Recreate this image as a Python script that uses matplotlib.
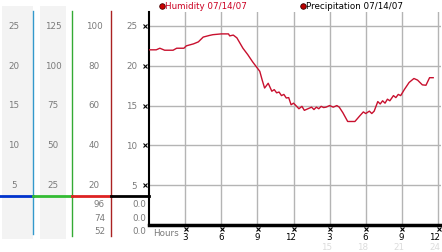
#!/usr/bin/env python3
"""Humidity / precipitation day chart, 07/14/07."""
import matplotlib
matplotlib.use('Agg')
import matplotlib.pyplot as plt
import matplotlib.transforms as mtransforms

# ---- data ----
hours = [0.0, 0.6, 0.9, 1.3, 2.0, 2.3, 2.9, 3.1, 3.7, 4.1, 4.5, 5.0, 5.3, 6.0,
         6.6, 6.7, 7.0, 7.3, 7.8, 8.2, 8.6, 8.9, 9.2, 9.4, 9.6, 9.9, 10.2,
         10.4, 10.6, 10.8, 11.0, 11.2, 11.4, 11.6, 11.8, 12.0, 12.2, 12.45,
         12.7, 12.9, 13.2, 13.5, 13.7, 13.9, 14.1, 14.3, 14.5, 14.7, 15.0,
         15.3, 15.6, 15.8, 16.1, 16.5, 17.1, 17.5, 17.8, 18.0, 18.3, 18.5,
         18.7, 19.0, 19.2, 19.4, 19.6, 19.8, 20.0, 20.3, 20.5, 20.7, 20.9,
         21.2, 21.6, 22.0, 22.3, 22.7, 23.0, 23.3, 23.6]
humidity = [22.0, 22.0, 22.2, 21.95, 21.95, 22.2, 22.2, 22.5, 22.75, 23.0,
            23.6, 23.8, 23.9, 24.0, 24.0, 23.75, 23.85, 23.5, 22.2, 21.4,
            20.5, 19.9, 19.3, 18.2, 17.2, 17.8, 16.8, 17.0, 16.6, 16.7, 16.25,
            16.4, 15.95, 16.0, 15.1, 15.3, 15.0, 14.6, 14.9, 14.4, 14.6, 14.8,
            14.5, 14.8, 14.6, 14.9, 14.75, 14.8, 15.0, 14.8, 15.0, 14.8, 14.1,
            13.0, 13.0, 13.7, 14.2, 14.0, 14.3, 14.0, 14.3, 15.5, 15.2, 15.6,
            15.3, 15.8, 15.6, 16.25, 16.0, 16.4, 16.25, 17.0, 17.9, 18.4,
            18.2, 17.6, 17.55, 18.5, 18.5]

y_ticks = [5, 10, 15, 20, 25]
x_ticks = [3, 6, 9, 12, 15, 18, 21, 24]
x_labels = ['3', '6', '9', '12', '3', '6', '9', '12']
x_labels_24 = ['15', '18', '21', '24']

# left scale columns (same rows as main y ticks)
col1_labels = ['5', '10', '15', '20', '25']
col2_labels = ['25', '50', '75', '100', '125']
col3_labels = ['20', '40', '60', '80', '100']
bottom_vals = ['96', '74', '52']
bottom_precip = ['0.0', '0.0', '0.0']

W, H = 442, 253
fig = plt.figure(figsize=(W / 100, H / 100), dpi=100)
fig.patch.set_facecolor('white')

GRAY_TXT = '#7a7a7a'
LINE_RED = '#c8102e'
FS = 6.3

# ---- decoration layer in pixel coordinates ----
deco = fig.add_axes([0, 0, 1, 1])
deco.set_xlim(0, W)
deco.set_ylim(H, 0)
deco.axis('off')

# ---- main plot ----
x0, x1, ytop, ybot = 149, 441, 13, 226
ax = fig.add_axes([x0 / W, 1 - ybot / H, (x1 - x0) / W, (ybot - ytop) / H])
ax.set_xlim(0, 24 * (x1 - x0) / (438 - x0))
ax.set_ylim(0, 25 + 14 / 8)
ax.set_facecolor('none')

for y in y_ticks:
    ax.axhline(y, color='#b4b4b4', lw=1, zorder=1)
for x in x_ticks:
    ax.axvline(x, color='#b4b4b4', lw=1, zorder=1)

ax.plot(hours, humidity, color=LINE_RED, lw=1, zorder=3)

for s in ['top', 'right']:
    ax.spines[s].set_visible(False)
ax.spines['left'].set_linewidth(1.5)
ax.spines['bottom'].set_linewidth(2.5)
ax.tick_params(length=0)
ax.set_xticks([])
ax.set_yticks([])

# y labels + small tick markers
ytr = mtransforms.blended_transform_factory(ax.transAxes, ax.transData)
for v in y_ticks:
    ax.text(-0.04, v, str(v), transform=ytr, ha='right', va='center',
            fontsize=FS, color=GRAY_TXT)
    ax.plot([-0.012], [v], marker='x', ms=2.5, mew=0.8, color='black',
            transform=ytr, clip_on=False)

# x labels + markers (labels sit right-aligned just past the gridline)
xtr = mtransforms.blended_transform_factory(ax.transData, ax.transAxes)
shift = mtransforms.ScaledTranslation(2.5 / 100, 0, fig.dpi_scale_trans)
for v, lab in zip(x_ticks, x_labels):
    ax.plot([v], [-0.02], marker='x', ms=2.5, mew=0.8, color='black',
            transform=xtr + mtransforms.ScaledTranslation(0.5 / 100, 0, fig.dpi_scale_trans),
            clip_on=False)
    ax.text(v, -0.032, lab, transform=xtr + shift, ha='right', va='top',
            fontsize=FS, color='black')
for v, lab in zip(x_ticks[4:], x_labels_24):
    ax.text(v, -0.078, lab, transform=xtr + shift, ha='right', va='top',
            fontsize=FS, color='#dcdcdc')
ax.text(0.015, -0.015, 'Hours', transform=ax.transAxes, ha='left', va='top',
        fontsize=FS, color=GRAY_TXT)

# left columns: gray backgrounds
deco.add_patch(plt.Rectangle((2, 7), 31, 233, color='#f3f3f3', lw=0))
deco.add_patch(plt.Rectangle((40, 7), 26, 233, color='#f3f3f3', lw=0))

# vertical scale lines
deco.plot([33, 33], [12, 235], color='#3399cc', lw=1)
deco.plot([72, 72], [12, 237], color='#33aa33', lw=1)
deco.plot([111, 111], [12, 237], color='#aa2222', lw=1)

# coloured base line
deco.plot([0, 33], [197, 197], color='#0033cc', lw=2)
deco.plot([33, 72], [197, 197], color='#33bb33', lw=2)
deco.plot([72, 111], [197, 197], color='#dd2222', lw=2)
deco.plot([111, 149], [197, 197], color='black', lw=2)

# column labels, aligned with main y ticks
row_px = [ybot - v * 8 for v in y_ticks]
for yp, a, b, c in zip(row_px, col1_labels, col2_labels, col3_labels):
    deco.text(14, yp, a, ha='center', va='center', fontsize=FS, color=GRAY_TXT)
    deco.text(53, yp, b, ha='center', va='center', fontsize=FS, color=GRAY_TXT)
    deco.text(94, yp, c, ha='center', va='center', fontsize=FS, color=GRAY_TXT)

for i, (a, b) in enumerate(zip(bottom_vals, bottom_precip)):
    yp = 205 + i * 13.5
    deco.text(105, yp, a, ha='right', va='center', fontsize=FS, color=GRAY_TXT)
    deco.text(146, yp, b, ha='right', va='center', fontsize=FS, color=GRAY_TXT)

# legend
deco.plot([161.5], [6.5], marker='o', ms=4, color='#cc0000', mec='#440000', mew=0.6)
deco.text(165, 6.5, 'Humidity 07/14/07', ha='left', va='center',
          fontsize=FS, color='#cc0022')
deco.plot([303], [6.5], marker='o', ms=4, color='#bb0000', mec='#330000', mew=0.6)
deco.text(306.5, 6.5, 'Precipitation 07/14/07', ha='left', va='center',
          fontsize=FS, color='black')

fig.savefig('out.png', dpi=100, facecolor='white')
plt.close(fig)
